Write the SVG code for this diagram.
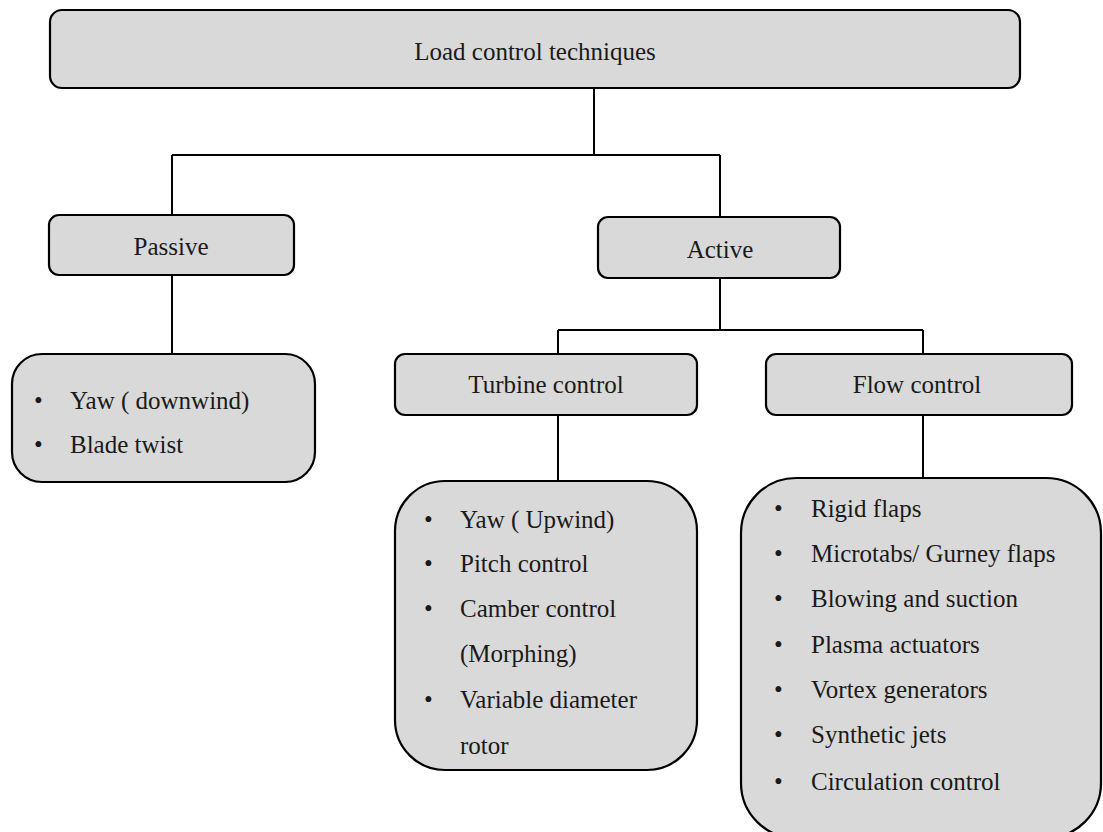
<svg xmlns="http://www.w3.org/2000/svg" width="1103" height="832" viewBox="0 0 1103 832">
<style>
.box{fill:#d9d9d9;stroke:#000;stroke-width:2.2}
.t{font-family:"Liberation Serif","Times New Roman",serif;font-size:25px;fill:#1a1a1a}
.c{text-anchor:middle}
.ln{fill:none;stroke:#000;stroke-width:2}
</style>
<rect width="1103" height="832" fill="#fff"/>
<g id="connectors">
<path class="ln" d="M594 88V155M172 155H720M172 155V215M720 155V217"/>
<path class="ln" d="M172 275V354"/>
<path class="ln" d="M720 278V330M558 330H923M558 330V354M923 330V354"/>
<path class="ln" d="M558 415V481M923 415V478"/>
</g>
<g id="root">
<rect class="box" x="50" y="10" width="970" height="78" rx="12"/>
<text class="t c" x="535" y="60">Load control techniques</text>
</g>
<g id="passive">
<rect class="box" x="49" y="215" width="245" height="60" rx="10"/>
<text class="t c" x="171" y="255">Passive</text>
</g>
<g id="active">
<rect class="box" x="598" y="217" width="242" height="61" rx="10"/>
<text class="t c" x="720" y="258">Active</text>
</g>
<g id="passive-list">
<rect class="box" x="12" y="354" width="303" height="128" rx="30"/>
<text class="t" x="34" y="409">•</text>
<text class="t" x="70" y="409">Yaw ( downwind)</text>
<text class="t" x="34" y="453">•</text>
<text class="t" x="70" y="453">Blade twist</text>
</g>
<g id="turbine-control">
<rect class="box" x="395" y="354" width="302" height="61" rx="10"/>
<text class="t c" x="546" y="393">Turbine control</text>
</g>
<g id="flow-control">
<rect class="box" x="766" y="354" width="306" height="61" rx="10"/>
<text class="t c" x="917" y="393">Flow control</text>
</g>
<g id="turbine-list">
<rect class="box" x="395" y="481" width="302" height="289" rx="50"/>
<text class="t" x="424" y="528">•</text>
<text class="t" x="460" y="528">Yaw ( Upwind)</text>
<text class="t" x="424" y="572">•</text>
<text class="t" x="460" y="572">Pitch control</text>
<text class="t" x="424" y="617">•</text>
<text class="t" x="460" y="617">Camber control</text>
<text class="t" x="460" y="662">(Morphing)</text>
<text class="t" x="424" y="708">•</text>
<text class="t" x="460" y="708">Variable diameter</text>
<text class="t" x="460" y="754">rotor</text>
</g>
<g id="flow-list">
<rect class="box" x="741" y="478" width="360" height="360" rx="55"/>
<text class="t" x="774" y="517">•</text>
<text class="t" x="811" y="517">Rigid flaps</text>
<text class="t" x="774" y="562">•</text>
<text class="t" x="811" y="562">Microtabs/ Gurney flaps</text>
<text class="t" x="774" y="607">•</text>
<text class="t" x="811" y="607">Blowing and suction</text>
<text class="t" x="774" y="653">•</text>
<text class="t" x="811" y="653">Plasma actuators</text>
<text class="t" x="774" y="698">•</text>
<text class="t" x="811" y="698">Vortex generators</text>
<text class="t" x="774" y="743">•</text>
<text class="t" x="811" y="743">Synthetic jets</text>
<text class="t" x="774" y="790">•</text>
<text class="t" x="811" y="790">Circulation control</text>
</g>
</svg>
